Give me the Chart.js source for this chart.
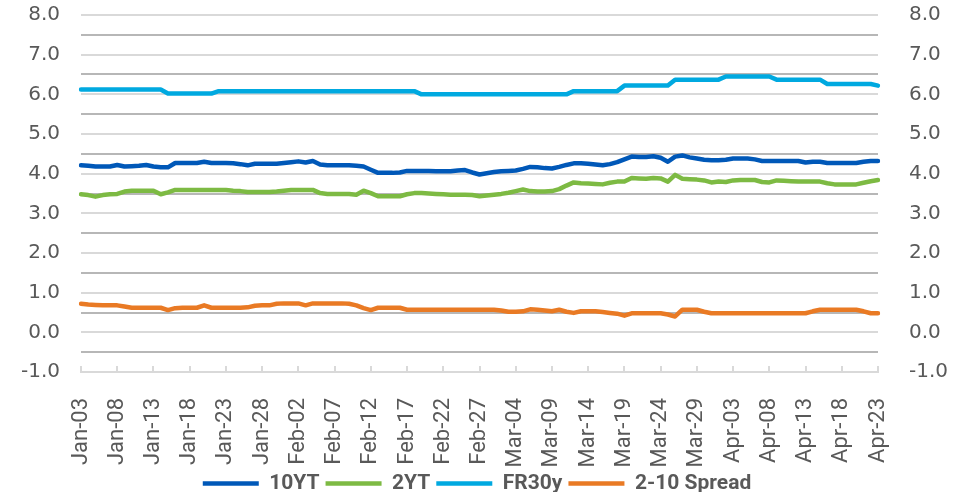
<!DOCTYPE html>
<html>
<head>
<meta charset="utf-8">
<script src="https://cdn.jsdelivr.net/npm/chart.js@4.4.1/dist/chart.umd.min.js"></script>
<style>
  html, body { margin: 0; padding: 0; background: #fff; }
  #wrap { width: 954px; height: 492px; position: relative; }
</style>
</head>
<body>
<div id="wrap"><canvas id="rates"></canvas></div>
<script>
// daily values, Jan-03 .. Apr-23 (111 days)
const startDay = new Date(2023, 0, 3);
const dayCount = 111;

const tenYear = [
  4.21, 4.20, 4.18, 4.18, 4.18, 4.22, 4.18, 4.19, 4.20, 4.22,
  4.18, 4.16, 4.16, 4.27, 4.27, 4.27, 4.27, 4.30, 4.27, 4.27,
  4.27, 4.26, 4.24, 4.21, 4.25, 4.25, 4.25, 4.25, 4.27, 4.29,
  4.31, 4.28, 4.32, 4.23, 4.21, 4.21, 4.21, 4.21, 4.20, 4.18,
  4.10, 4.02, 4.02, 4.02, 4.03, 4.07, 4.07, 4.07, 4.07, 4.06,
  4.06, 4.06, 4.08, 4.09, 4.03, 3.98, 4.01, 4.04, 4.06, 4.07,
  4.08, 4.12, 4.17, 4.16, 4.14, 4.13, 4.17, 4.22, 4.26, 4.26,
  4.25, 4.23, 4.21, 4.24, 4.29, 4.36, 4.43, 4.42, 4.42, 4.44,
  4.40, 4.30, 4.43, 4.46, 4.41, 4.38, 4.35, 4.34, 4.34, 4.35,
  4.38, 4.38, 4.38, 4.36, 4.32, 4.32, 4.32, 4.32, 4.32, 4.32,
  4.28, 4.30, 4.30, 4.27, 4.27, 4.27, 4.27, 4.27, 4.30, 4.32,
  4.32
];

const twoYear = [
  3.48, 3.46, 3.42, 3.46, 3.48, 3.49, 3.55, 3.57, 3.57, 3.57,
  3.57, 3.48, 3.53, 3.59, 3.59, 3.59, 3.59, 3.59, 3.59, 3.59,
  3.59, 3.57, 3.56, 3.54, 3.54, 3.54, 3.54, 3.55, 3.57, 3.59,
  3.59, 3.59, 3.59, 3.51, 3.49, 3.49, 3.49, 3.49, 3.47, 3.57,
  3.51, 3.43, 3.43, 3.43, 3.43, 3.48, 3.51, 3.51, 3.50, 3.49,
  3.48, 3.47, 3.47, 3.47, 3.46, 3.43, 3.45, 3.47, 3.49, 3.52,
  3.56, 3.60, 3.56, 3.55, 3.55, 3.56, 3.61, 3.70, 3.78, 3.76,
  3.75, 3.74, 3.73, 3.77, 3.80, 3.80, 3.89, 3.88, 3.87, 3.89,
  3.88, 3.80, 3.97, 3.87, 3.86, 3.85, 3.83, 3.78, 3.80, 3.79,
  3.83, 3.84, 3.84, 3.84, 3.79, 3.78, 3.83, 3.82, 3.81, 3.80,
  3.80, 3.80, 3.80, 3.76, 3.73, 3.73, 3.73, 3.73, 3.77, 3.81,
  3.84
];

// weekly mortgage rate, held flat between releases
const fr30y = [
  6.12, 6.12, 6.12, 6.12, 6.12, 6.12, 6.12, 6.12, 6.12, 6.12,
  6.12, 6.12, 6.02, 6.02, 6.02, 6.02, 6.02, 6.02, 6.02, 6.08,
  6.08, 6.08, 6.08, 6.08, 6.08, 6.08, 6.08, 6.08, 6.08, 6.08,
  6.08, 6.08, 6.08, 6.08, 6.08, 6.08, 6.08, 6.08, 6.08, 6.08,
  6.08, 6.08, 6.08, 6.08, 6.08, 6.08, 6.08, 6.00, 6.00, 6.00,
  6.00, 6.00, 6.00, 6.00, 6.00, 6.00, 6.00, 6.00, 6.00, 6.00,
  6.00, 6.00, 6.00, 6.00, 6.00, 6.00, 6.00, 6.00, 6.08, 6.08,
  6.08, 6.08, 6.08, 6.08, 6.08, 6.22, 6.22, 6.22, 6.22, 6.22,
  6.22, 6.22, 6.37, 6.37, 6.37, 6.37, 6.37, 6.37, 6.37, 6.45,
  6.45, 6.45, 6.45, 6.45, 6.45, 6.45, 6.37, 6.37, 6.37, 6.37,
  6.37, 6.37, 6.37, 6.26, 6.26, 6.26, 6.26, 6.26, 6.26, 6.26,
  6.22
];

const spread = [
  0.72, 0.70, 0.69, 0.68, 0.68, 0.68, 0.65, 0.62, 0.62, 0.62,
  0.62, 0.62, 0.56, 0.61, 0.62, 0.62, 0.62, 0.68, 0.62, 0.62,
  0.62, 0.62, 0.62, 0.63, 0.67, 0.68, 0.68, 0.72, 0.73, 0.73,
  0.73, 0.68, 0.73, 0.73, 0.73, 0.73, 0.73, 0.72, 0.68, 0.61,
  0.56, 0.62, 0.62, 0.62, 0.62, 0.57, 0.57, 0.57, 0.57, 0.57,
  0.57, 0.57, 0.57, 0.57, 0.57, 0.57, 0.57, 0.57, 0.55, 0.52,
  0.52, 0.53, 0.58, 0.57, 0.55, 0.53, 0.57, 0.52, 0.49, 0.53,
  0.53, 0.53, 0.51, 0.49, 0.47, 0.42, 0.48, 0.48, 0.48, 0.48,
  0.48, 0.45, 0.40, 0.57, 0.57, 0.57, 0.52, 0.48, 0.48, 0.48,
  0.48, 0.48, 0.48, 0.48, 0.48, 0.48, 0.48, 0.48, 0.48, 0.48,
  0.48, 0.53, 0.57, 0.57, 0.57, 0.57, 0.57, 0.57, 0.53, 0.48,
  0.48
];

const seriesNames = ["10YT", "2YT", "FR30y", "2-10 Spread"];
const seriesColors = ["#0058B8", "#7DBA43", "#00A9E0", "#E97A24"];

// darker rules halfway between the labelled grid lines
const halfGridValues = [-0.5, 0.5, 1.5, 2.5, 3.5, 4.5, 5.5, 6.5, 7.5];

const monthNames = ["Jan", "Feb", "Mar", "Apr", "May", "Jun", "Jul", "Aug", "Sep", "Oct", "Nov", "Dec"];
const dayLabels = [];
for (let i = 0; i < dayCount; i++) {
  const d = new Date(startDay);
  d.setDate(d.getDate() + i);
  dayLabels.push(monthNames[d.getMonth()] + "-" + String(d.getDate()).padStart(2, "0"));
}

const textGray = "#595959";
const lightGrid = "#d9d9d9";
const darkGrid = "#b7b7b7";

const halfRules = {
  id: "halfRules",
  beforeDatasetsDraw(chart) {
    const { ctx, chartArea, scales } = chart;
    const y = scales.y;
    ctx.save();
    ctx.lineWidth = 2;
    ctx.strokeStyle = darkGrid;
    halfGridValues.forEach(v => {
      const py = Math.round(y.getPixelForValue(v));
      ctx.beginPath();
      ctx.moveTo(chartArea.left, py);
      ctx.lineTo(chartArea.right, py);
      ctx.stroke();
    });
    ctx.restore();
  }
};

function makeSet(idx, values) {
  return {
    label: seriesNames[idx],
    data: values,
    borderColor: seriesColors[idx],
    backgroundColor: seriesColors[idx],
    borderWidth: 4.5,
    borderCapStyle: "round",
    borderJoinStyle: "round",
    pointRadius: 0,
    tension: 0,
    yAxisID: "y"
  };
}

const ctx = document.getElementById("rates").getContext("2d");
new Chart(ctx, {
  type: "line",
  data: {
    labels: dayLabels,
    datasets: [
      makeSet(0, tenYear),
      makeSet(1, twoYear),
      makeSet(2, fr30y),
      makeSet(3, spread)
    ]
  },
  plugins: [halfRules],
  options: {
    responsive: true,
    maintainAspectRatio: false,
    animation: false,
    layout: { padding: { left: 0, right: 0, top: 15, bottom: -12 } },
    plugins: {
      tooltip: { enabled: false },
      legend: {
        position: "bottom",
        labels: {
          color: textGray,
          font: { family: "Roboto", size: 21, weight: "bold" },
          usePointStyle: true,
          pointStyle: "line",
          pointStyleWidth: 56,
          padding: 6
        }
      }
    },
    scales: {
      x: {
        offset: false,
        afterFit: s => { s.height = 95; },
        border: { color: lightGrid, width: 2 },
        grid: { drawOnChartArea: false, drawTicks: true, tickLength: -6, color: lightGrid, lineWidth: 2 },
        ticks: {
          autoSkip: false,
          minRotation: 90,
          maxRotation: 90,
          padding: 32,
          color: textGray,
          font: { family: "Roboto", size: 22 },
          callback: function (val, i) {
            return i % 5 === 0 ? this.getLabelForValue(val) : null;
          }
        }
      },
      y: {
        position: "left",
        min: -1,
        max: 8,
        afterFit: s => { s.width = 81; s.paddingTop = 0; s.paddingBottom = 0; },
        grid: { color: lightGrid, lineWidth: 2, tickLength: 0 },
        border: { display: false },
        ticks: {
          stepSize: 1,
          padding: 21,
          color: textGray,
          font: { family: "DejaVu Sans", size: 20 },
          callback: v => v.toFixed(1)
        }
      },
      y2: {
        position: "right",
        min: -1,
        max: 8,
        afterFit: s => { s.width = 76; s.paddingTop = 0; s.paddingBottom = 0; },
        border: { display: false },
        grid: { display: false },
        ticks: {
          stepSize: 1,
          padding: 23,
          color: textGray,
          font: { family: "DejaVu Sans", size: 20 },
          callback: v => v.toFixed(1)
        }
      }
    }
  }
});
</script>
</body>
</html>
